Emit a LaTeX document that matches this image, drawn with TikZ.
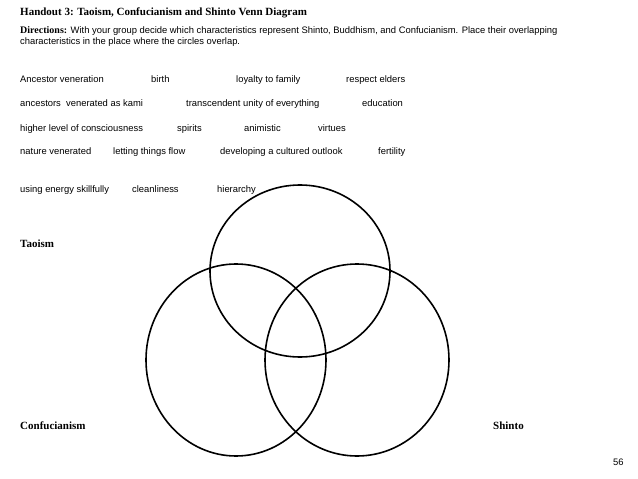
\documentclass[tikz,border=0pt]{standalone}
\usepackage{fontspec}
\setmainfont{Liberation Sans}
\newfontfamily\hd{Liberation Serif}
\begin{document}
\begin{tikzpicture}[x=1pt,y=-1pt,
 t/.style={anchor=base west,inner sep=0pt,font=\fontsize{9.4}{11}\selectfont},
 h/.style={anchor=base west,inner sep=0pt,font=\hd\bfseries\fontsize{11}{12}\selectfont},
 c/.style={draw,line width=1.6pt}]
\useasboundingbox (0,0) rectangle (638,479);
\node[h] (title) at (20,16) {Handout 3: Taoism, Confucianism and Shinto Venn Diagram};
\node[t] (d1) at (20,33) {{\hd\bfseries\fontsize{10}{11}\selectfont Directions:} With your group decide which characteristics represent Shinto, Buddhism, and Confucianism. Place their overlapping};
\node[t] (d2) at (20,44) {characteristics in the place where the circles overlap.};
\node[t] (a1) at (20,82) {Ancestor veneration};
\node[t] (a2) at (151,82) {birth};
\node[t] (a3) at (236,82) {loyalty to family};
\node[t] (a4) at (346,82) {respect elders};
\node[t] (b1) at (20,106) {ancestors\ \ venerated as kami};
\node[t] (b2) at (186,106) {transcendent unity of everything};
\node[t] (b3) at (362,106) {education};
\node[t] (c1) at (20,131) {higher level of consciousness};
\node[t] (c2) at (177,131) {spirits};
\node[t] (c3) at (244,131) {animistic};
\node[t] (c4) at (318,131) {virtues};
\node[t] (e1) at (20,154) {nature venerated};
\node[t] (e2) at (113,154) {letting things flow};
\node[t] (e3) at (220,154) {developing a cultured outlook};
\node[t] (e4) at (378,154) {fertility};
\node[t] (f1) at (20,192) {using energy skillfully};
\node[t] (f2) at (132,192) {cleanliness};
\node[t] (f3) at (217,192) {hierarchy};
\node[h] (tao) at (20,247) {Taoism};
\node[h] (con) at (20,429) {Confucianism};
\node[h] (shi) at (493,429) {Shinto};
\node[t] (pg) at (613,465) {56};
\draw[c] (300,271) ellipse [x radius=90,y radius=86];
\draw[c] (236,360) ellipse [x radius=90,y radius=96];
\draw[c] (357,360) ellipse [x radius=92,y radius=96];
\end{tikzpicture}
\end{document}
